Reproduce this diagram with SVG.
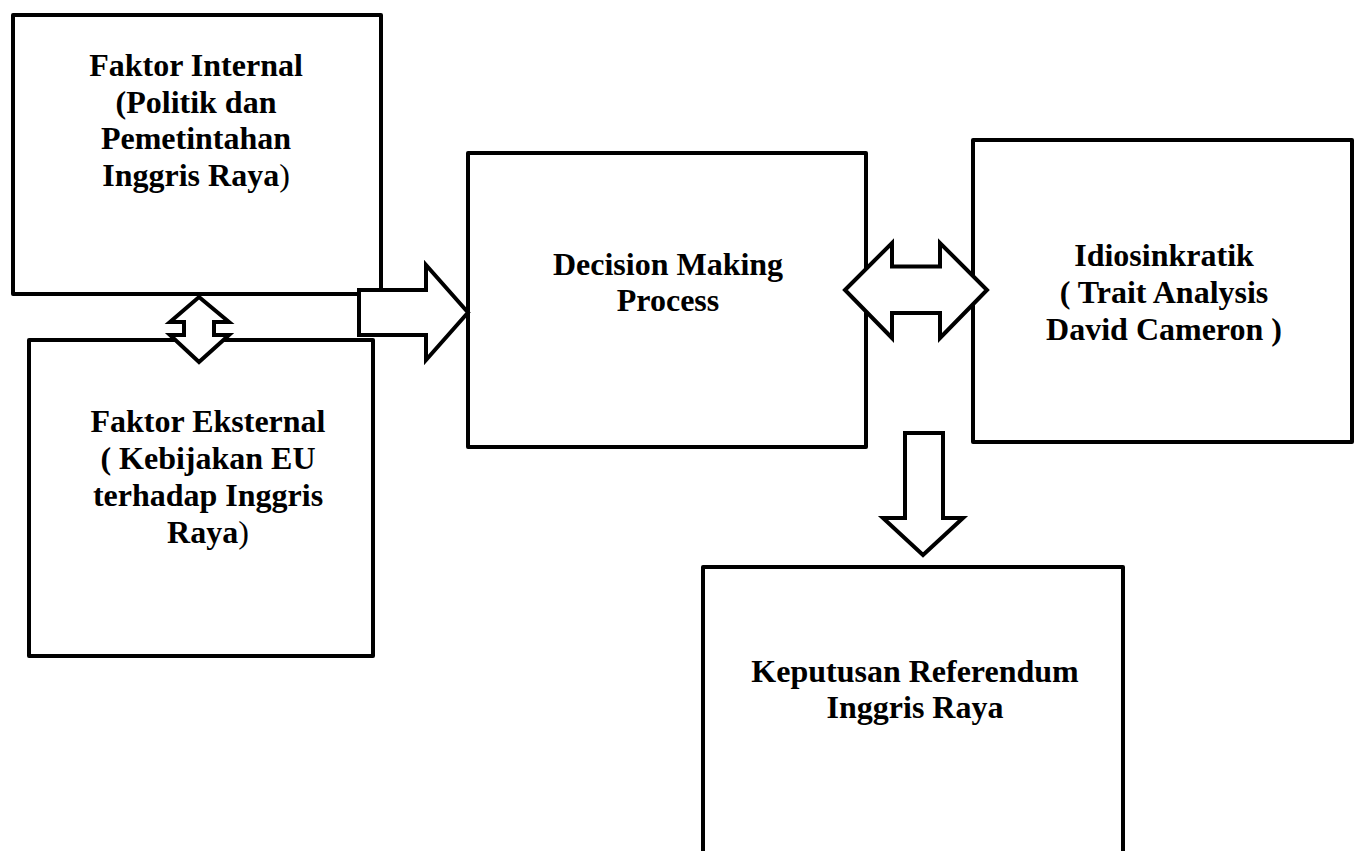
<svg xmlns="http://www.w3.org/2000/svg" width="1362" height="851" viewBox="0 0 1362 851">
<style>
.box{fill:#fff;stroke:#000;stroke-width:4;stroke-linejoin:round}
.arr{fill:#fff;stroke:#000;stroke-width:4;stroke-linejoin:miter;stroke-miterlimit:10}
.t{font-family:"Liberation Serif","Times New Roman",serif;font-weight:bold;font-size:32px;fill:#000;text-anchor:middle}
.n{font-weight:normal}
</style>
<rect x="0" y="0" width="1362" height="851" fill="#fff"/>
<g id="node-internal">
<rect class="box" x="13" y="15" width="368" height="279"/>
<text class="t" x="196" y="76">Faktor Internal</text>
<text class="t" x="196" y="112.5">(Politik dan</text>
<text class="t" x="196" y="149">Pemetintahan</text>
<text class="t" x="196" y="185.5">Inggris Raya<tspan class="n">)</tspan></text>
</g>
<g id="node-eksternal">
<rect class="box" x="29" y="340" width="344" height="316"/>
<text class="t" x="208" y="432">Faktor Eksternal</text>
<text class="t" x="208" y="468.5">( Kebijakan EU</text>
<text class="t" x="208" y="505.5">terhadap Inggris</text>
<text class="t" x="208" y="542.5">Raya<tspan class="n">)</tspan></text>
</g>
<g id="node-decision">
<rect class="box" x="468" y="153" width="398" height="294"/>
<text class="t" x="668" y="275">Decision Making</text>
<text class="t" x="668" y="311">Process</text>
</g>
<g id="node-idiosinkratik">
<rect class="box" x="973" y="140" width="379" height="302"/>
<text class="t" x="1164" y="266">Idiosinkratik</text>
<text class="t" x="1164" y="303">( Trait Analysis</text>
<text class="t" x="1164" y="340">David Cameron )</text>
</g>
<g id="node-keputusan">
<rect class="box" x="703" y="567" width="420" height="300"/>
<text class="t" x="915" y="682">Keputusan Referendum</text>
<text class="t" x="915" y="718">Inggris Raya</text>
</g>
<g id="connectors">
<polygon class="arr" points="199,297 229,322 214,322 214,335 229,335 199,362 170,335 184,335 184,322 170,322"/>
<polygon class="arr" points="359,290 426,290 426,265 468,312.5 426,360 426,335 359,335"/>
<polygon class="arr" points="845,290 892,243 892,266.5 940,266.5 940,243 987,290 940,338 940,313 892,313 892,338"/>
<polygon class="arr" points="905,433 943,433 943,518 963,518 923,555 883,518 905,518"/>
</g>
</svg>
